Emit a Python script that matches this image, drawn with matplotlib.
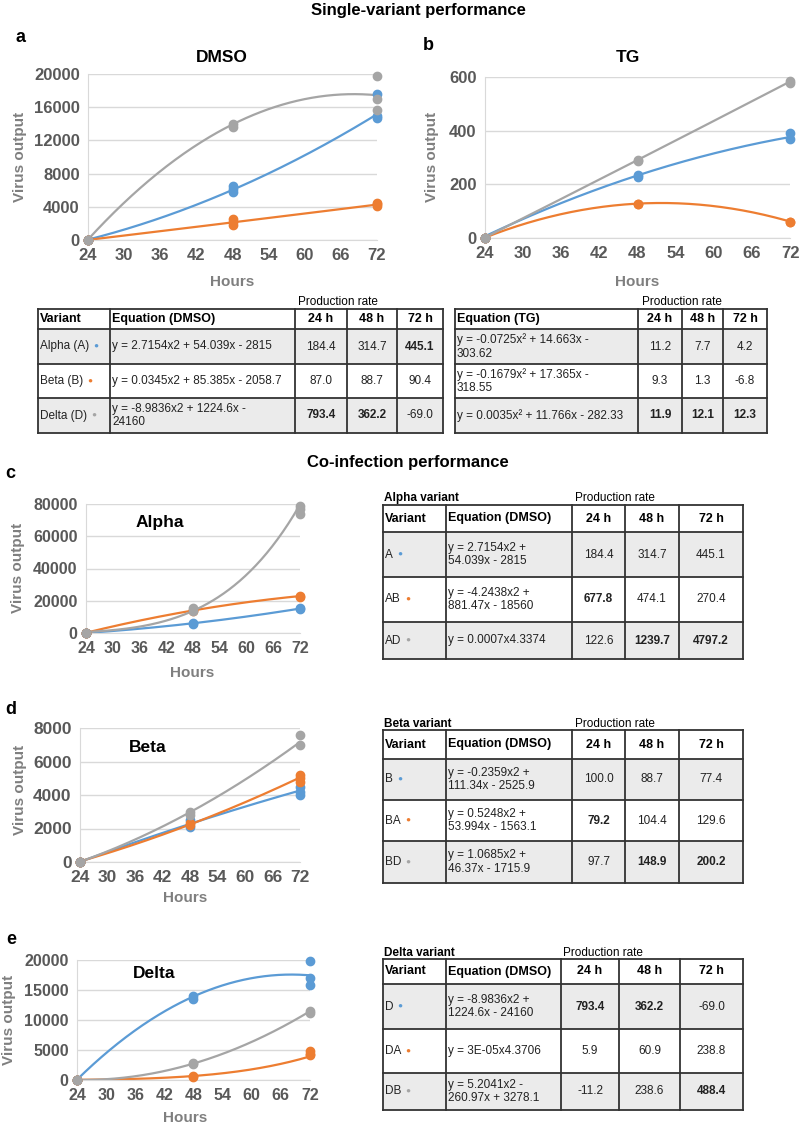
import numpy as np
import matplotlib
matplotlib.use('Agg')
import matplotlib.pyplot as plt
from matplotlib.patches import Rectangle

plt.rcParams['font.family'] = ['Liberation Sans', 'DejaVu Sans']

W, H = 800, 1126
COLORS = ['#5b9bd5', '#ed7d31', '#a5a5a5']
TICK_GREY = '#595959'
LABEL_GREY = '#7f7f7f'

hours = [24, 48, 72]
tick_hours = list(range(24, 73, 6))

# replicate readings at 24 / 48 / 72 h
dmso_alpha = [[0, 0, 0], [5800, 6200, 6500], [14700, 15000, 17600]]
dmso_beta = [[0, 0, 0], [1800, 2200, 2500], [4100, 4300, 4400]]
dmso_delta = [[0, 0, 0], [13600, 14000], [15700, 17000, 19800]]

tg_alpha = [[0, 0, 0], [228, 236], [368, 392]]
tg_beta = [[0, 0, 0], [127, 128], [60, 61]]
tg_delta = [[0, 0, 0], [288, 292], [578, 586]]

co_a = [[0, 0, 0], [5500, 6000], [15000, 15600]]
co_ab = [[0, 0, 0], [13800, 14300], [22500, 23200]]
co_ad = [[0, 0, 0], [13500, 15500], [74000, 77000, 78500]]

co_b = [[0, 0, 0], [2100, 2500], [4000, 4200, 4500]]
co_ba = [[0, 0, 0], [2200, 2300], [4800, 5000, 5200]]
co_bd = [[0, 0, 0], [2800, 3000], [7000, 7600]]

co_d = [[0, 0, 0], [13500, 14000], [15800, 17000, 19800]]
co_da = [[0, 0, 0], [500, 650], [4100, 4300, 4800]]
co_db = [[0, 0, 0], [2700, 2800], [11200, 11500]]

# fitted trend lines (from the tables): 'poly' a*x^2+b*x+c, 'power' k*x^p
dmso_trends = [('poly', [2.7154, 54.039, -2815]), ('poly', [0.0345, 85.385, -2058.7]),
               ('poly', [-8.9836, 1224.6, -24160])]
tg_trends = [('poly', [-0.0725, 14.663, -303.62]), ('poly', [-0.1679, 17.365, -318.55]),
             ('poly', [0.0035, 11.766, -282.33])]
alpha_trends = [('poly', [2.7154, 54.039, -2815]), ('poly', [-4.2438, 881.47, -18560]),
                ('power', [0.0007, 4.3374])]
beta_trends = [('poly', [-0.2359, 111.34, -2525.9]), ('poly', [0.5248, 53.994, -1563.1]),
               ('poly', [1.0685, 46.37, -1715.9])]
delta_trends = [('poly', [-8.9836, 1224.6, -24160]), ('power', [3e-05, 4.3706]),
                ('poly', [5.2041, -260.97, 3278.1])]

# tables
rate_headers = ['24 h', '48 h', '72 h']
single_names = ['Alpha (A)', 'Beta (B)', 'Delta (D)']
dmso_eqs = ['y = 2.7154x2 + 54.039x - 2815', 'y = 0.0345x2 + 85.385x - 2058.7',
            'y = -8.9836x2 + 1224.6x -\n24160']
dmso_rates = [[184.4, 314.7, 445.1], [87.0, 88.7, 90.4], [793.4, 362.2, -69.0]]
dmso_bold = [[0, 0, 1], [0, 0, 0], [1, 1, 0]]
tg_eqs = ['y = -0.0725x\u00b2 + 14.663x -\n303.62', 'y = -0.1679x\u00b2 + 17.365x -\n318.55',
          'y = 0.0035x\u00b2 + 11.766x - 282.33']
tg_rates = [[11.2, 7.7, 4.2], [9.3, 1.3, -6.8], [11.9, 12.1, 12.3]]
tg_bold = [[0, 0, 0], [0, 0, 0], [1, 1, 1]]

alpha_names = ['A', 'AB', 'AD']
alpha_eqs = ['y = 2.7154x2 +\n54.039x - 2815', 'y = -4.2438x2 +\n881.47x - 18560', 'y = 0.0007x4.3374']
alpha_rates = [[184.4, 314.7, 445.1], [677.8, 474.1, 270.4], [122.6, 1239.7, 4797.2]]
alpha_bold = [[0, 0, 0], [1, 0, 0], [0, 1, 1]]

beta_names = ['B', 'BA', 'BD']
beta_eqs = ['y = -0.2359x2 +\n111.34x - 2525.9', 'y = 0.5248x2 +\n53.994x - 1563.1',
            'y = 1.0685x2 +\n46.37x - 1715.9']
beta_rates = [[100.0, 88.7, 77.4], [79.2, 104.4, 129.6], [97.7, 148.9, 200.2]]
beta_bold = [[0, 0, 0], [1, 0, 0], [0, 1, 1]]

delta_names = ['D', 'DA', 'DB']
delta_eqs = ['y = -8.9836x2 +\n1224.6x - 24160', 'y = 3E-05x4.3706', 'y = 5.2041x2 -\n260.97x + 3278.1']
delta_rates = [[793.4, 362.2, -69.0], [5.9, 60.9, 238.8], [-11.2, 238.6, 488.4]]
delta_bold = [[1, 1, 0], [0, 0, 0], [0, 0, 1]]


fig = plt.figure(figsize=(8, 11.26), dpi=100)


def px_axes(l, t, r, b):
    return fig.add_axes([l / W, 1 - b / H, (r - l) / W, (b - t) / H])


def trend_y(kind, coef, x):
    if kind == 'poly':
        return coef[0] * x ** 2 + coef[1] * x + coef[2]
    return coef[0] * x ** coef[1]


def chart(ax, series, trends, yticks, fs):
    xs = np.linspace(24, 72, 200)
    for pts, (kind, coef), color in zip(series, trends, COLORS):
        ax.plot(xs, trend_y(kind, coef, xs), color=color, lw=1.6, zorder=2)
        for h, reps in zip(hours, pts):
            ax.plot([h] * len(reps), reps, 'o', color=color, ms=6, mec=color,
                    clip_on=False, zorder=3)
    ax.set_xlim(24, 72)
    ax.set_ylim(yticks[0], yticks[-1])
    ax.set_xticks(tick_hours)
    ax.set_yticks(yticks)
    ax.grid(axis='y', color='#d9d9d9', lw=1)
    ax.set_axisbelow(True)
    for s in ['top', 'right']:
        ax.spines[s].set_visible(False)
    for s in ['left', 'bottom']:
        ax.spines[s].set_color('#d9d9d9')
    ax.tick_params(length=0, labelsize=fs, labelcolor=TICK_GREY, pad=6)
    for lab in ax.get_xticklabels() + ax.get_yticklabels():
        lab.set_fontweight('bold')


ax_a = px_axes(88, 74, 377, 240)
chart(ax_a, [dmso_alpha, dmso_beta, dmso_delta], dmso_trends, [0, 4000, 8000, 12000, 16000, 20000], 12)
ax_b = px_axes(485, 77, 790, 238)
chart(ax_b, [tg_alpha, tg_beta, tg_delta], tg_trends, [0, 200, 400, 600], 12)
ax_c = px_axes(86, 504, 300, 633)
chart(ax_c, [co_a, co_ab, co_ad], alpha_trends, [0, 20000, 40000, 60000, 80000], 11.5)
ax_d = px_axes(80, 728, 300, 862)
chart(ax_d, [co_b, co_ba, co_bd], beta_trends, [0, 2000, 4000, 6000, 8000], 12.5)
ax_e = px_axes(77, 960, 310, 1080)
chart(ax_e, [co_d, co_da, co_db], delta_trends, [0, 5000, 10000, 15000, 20000], 11.5)

ov = fig.add_axes([0, 0, 1, 1])
ov.set_xlim(0, W)
ov.set_ylim(H, 0)
ov.axis('off')


def draw_table(cols, rows, headers, names, eqs, rates, bold, fs=8.5):
    ntext = len(headers) - 3
    for i in range(len(eqs)):
        if i % 2 == 0:
            ov.add_patch(Rectangle((cols[0], rows[i + 1]), cols[-1] - cols[0],
                                   rows[i + 2] - rows[i + 1], fc='#ebebeb', ec='none', zorder=1))
    for x in cols:
        ov.plot([x, x], [rows[0], rows[-1]], color='#333333', lw=1.3, zorder=2)
    for y in rows:
        ov.plot([cols[0], cols[-1]], [y, y], color='#333333', lw=1.3, zorder=2)
    hy = (rows[0] + rows[1]) / 2
    for j, hd in enumerate(headers):
        if j < ntext:
            ov.text(cols[j] + 2, hy, hd, fontsize=fs + 0.5, fontweight='bold', ha='left', va='center')
        else:
            ov.text((cols[j] + cols[j + 1]) / 2, hy, hd, fontsize=fs + 0.5, fontweight='bold',
                    ha='center', va='center')
    for i, eq in enumerate(eqs):
        cy = (rows[i + 1] + rows[i + 2]) / 2
        j = 0
        if names is not None:
            t = ov.text(cols[0] + 2, cy, names[i], fontsize=fs, ha='left', va='center', color='#222222')
            ov.annotate('\u25cf', xy=(1, 0.5), xycoords=t, xytext=(3, 0), textcoords='offset points',
                        fontsize=6, color=COLORS[i], ha='left', va='center')
            j = 1
        ov.text(cols[j] + 2, cy, eq, fontsize=fs, ha='left', va='center', linespacing=1.15,
                color='#222222')
        for k, v in enumerate(rates[i]):
            ov.text((cols[j + 1 + k] + cols[j + 2 + k]) / 2, cy, f'{v:.1f}', fontsize=fs,
                    fontweight='bold' if bold[i][k] else 'normal', ha='center', va='center',
                    color='#222222')


draw_table([38, 110, 295, 347, 397, 443], [309, 329, 364, 398, 433],
           ['Variant', 'Equation (DMSO)'] + rate_headers, single_names, dmso_eqs, dmso_rates, dmso_bold)
draw_table([455, 638, 682, 723, 767], [309, 329, 364, 398, 433],
           ['Equation (TG)'] + rate_headers, None, tg_eqs, tg_rates, tg_bold)
draw_table([383, 446, 572, 625, 679, 743], [505, 532, 577, 622, 659],
           ['Variant', 'Equation (DMSO)'] + rate_headers, alpha_names, alpha_eqs, alpha_rates, alpha_bold)
draw_table([383, 446, 572, 625, 679, 743], [730, 759, 800, 841, 883],
           ['Variant', 'Equation (DMSO)'] + rate_headers, beta_names, beta_eqs, beta_rates, beta_bold)
draw_table([383, 446, 561, 619, 680, 743], [959, 984, 1029, 1073, 1110],
           ['Variant', 'Equation (DMSO)'] + rate_headers, delta_names, delta_eqs, delta_rates, delta_bold)

# table captions
for x, y, s in [(338, 302, 'Production rate'), (682, 302, 'Production rate'),
                (615, 498, 'Production rate'), (615, 724, 'Production rate'),
                (603, 953, 'Production rate')]:
    ov.text(x, y, s, fontsize=8.5, ha='center', va='center')
for y, s in [(498, 'Alpha variant'), (724, 'Beta variant'), (953, 'Delta variant')]:
    ov.text(384, y, s, fontsize=8.5, fontweight='bold', ha='left', va='center')

# headings and panel letters
ov.text(418, 10, 'Single-variant performance', fontsize=12, fontweight='bold', ha='center', va='center')
ov.text(408, 462, 'Co-infection performance', fontsize=12, fontweight='bold', ha='center', va='center')
for x, y, s in [(20, 37, 'a'), (428, 45, 'b'), (10, 473, 'c'), (11, 710, 'd'), (11, 940, 'e')]:
    ov.text(x, y, s, fontsize=13, fontweight='bold', ha='center', va='center')

# chart titles
for x, y, s in [(222, 58, 'DMSO'), (628, 57, 'TG')]:
    ov.text(x, y, s, fontsize=12.5, fontweight='bold', ha='center', va='center')
for x, y, s in [(160, 522, 'Alpha'), (148, 748, 'Beta'), (154, 974, 'Delta')]:
    ov.text(x, y, s, fontsize=12.5, fontweight='bold', ha='center', va='center')

# axis titles
for x, y in [(20, 157), (432, 157), (18, 568), (20, 790), (9, 1020)]:
    ov.text(x, y, 'Virus output', fontsize=11, fontweight='bold', color=LABEL_GREY,
            rotation=90, ha='center', va='center')
for x, y in [(232, 282), (637, 282), (192, 673), (185, 898), (185, 1118)]:
    ov.text(x, y, 'Hours', fontsize=11, fontweight='bold', color=LABEL_GREY, ha='center', va='center')

fig.savefig('out.png', dpi=100)
